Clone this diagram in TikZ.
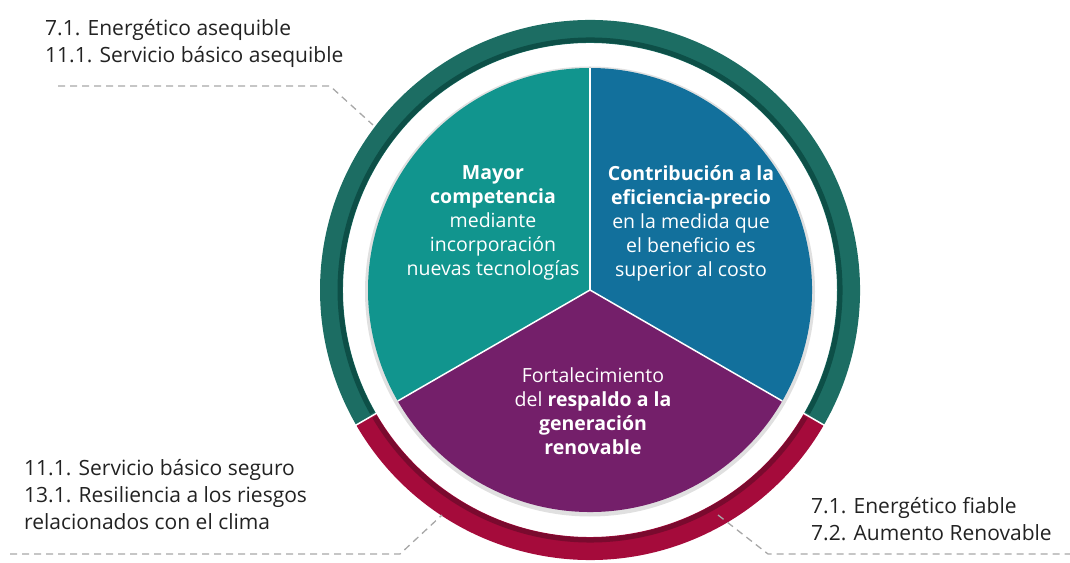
\documentclass[tikz,border=0pt]{standalone}
\usepackage{fontspec}
\setmainfont{Open Sans}
\definecolor{ringteal}{HTML}{1C6D63}
\definecolor{ringtealdark}{HTML}{0D4F47}
\definecolor{ringred}{HTML}{A50B3B}
\definecolor{ringreddark}{HTML}{7A0A2E}
\definecolor{pieteal}{HTML}{11958E}
\definecolor{pieblue}{HTML}{12709C}
\definecolor{piepurple}{HTML}{741F6A}
\definecolor{labeltext}{HTML}{222222}
\definecolor{dashgray}{HTML}{A8A8A8}
\tikzset{
  outerlabel/.style={anchor=north west, align=left, text=labeltext, font=\fontsize{21}{27}\selectfont, inner sep=0pt},
  innerlabel/.style={align=center, text=white, font=\fontsize{19.5}{24}\selectfont, inner sep=0pt},
  leader/.style={draw=dashgray, line width=1.3pt, dash pattern=on 7pt off 5pt},
}
\begin{document}
\begin{tikzpicture}[x=1pt,y=1pt]
\useasboundingbox (0,0) rectangle (1070,562);
\begin{scope}[shift={(590,272)}]
  \fill[ringteal] (-30:270) arc[start angle=-30, end angle=210, radius=270] -- (210:247) arc[start angle=210, end angle=-30, radius=247] -- cycle;
  \draw[ringtealdark, line width=5pt] (-29.5:250) arc[start angle=-29.5, end angle=209.5, radius=250];
  \fill[ringred] (210:270) arc[start angle=210, end angle=330, radius=270] -- (330:247) arc[start angle=330, end angle=210, radius=247] -- cycle;
  \draw[ringreddark, line width=5pt] (210.5:250) arc[start angle=210.5, end angle=329.5, radius=250];
  \draw[white, line width=1.5pt] (210:246) -- (210:271);
  \draw[white, line width=1.5pt] (330:246) -- (330:271);
  \fill[black!12] (0,-1.5) circle[radius=225];
  \fill[pieteal] (0,0) -- (90:222) arc[start angle=90, end angle=210, radius=222] -- cycle;
  \fill[pieblue] (0,0) -- (-30:222) arc[start angle=-30, end angle=90, radius=222] -- cycle;
  \fill[piepurple] (0,0) -- (210:222) arc[start angle=210, end angle=330, radius=222] -- cycle;
  \draw[white, line width=1.5pt] (0,0) -- (90:222);
  \draw[white, line width=1.5pt] (0,0) -- (210:222);
  \draw[white, line width=1.5pt] (0,0) -- (330:222);
\end{scope}
\node[innerlabel] (tA) at (493,339) {\textbf{Mayor}\\\textbf{competencia}\\mediante\\incorporación\\nuevas tecnologías};
\node[innerlabel] (tB) at (691,339) {\textbf{Contribución a la}\\\textbf{eficiencia-precio}\\en la medida que\\el beneficio es\\superior al costo};
\node[innerlabel] (tC) at (593,151) {Fortalecimiento\\del \textbf{respaldo a la}\\\textbf{generación}\\\textbf{renovable}};
\node[outerlabel] (lTL) at (45,543) {7.1. Energético asequible\\11.1. Servicio básico asequible};
\node[outerlabel] (lBL) at (24,103) {11.1. Servicio básico seguro\\13.1. Resiliencia a los riesgos\\relacionados con el clima};
\node[outerlabel] (lBR) at (811,65) {7.1. Energético fiable\\7.2. Aumento Renovable};
\coordinate (a1) at (58,476);
\coordinate (a2) at (330,476);
\coordinate (a3) at (373,437);
\coordinate (b1) at (10,8);
\coordinate (b2) at (400,8);
\coordinate (b3) at (442,47);
\coordinate (c1) at (718,47);
\coordinate (c2) at (768,8);
\coordinate (c3) at (1070,8);
\draw[leader] (a1) -- (a2) -- (a3);
\draw[leader] (b1) -- (b2) -- (b3);
\draw[leader] (c1) -- (c2) -- (c3);
\end{tikzpicture}
\end{document}
